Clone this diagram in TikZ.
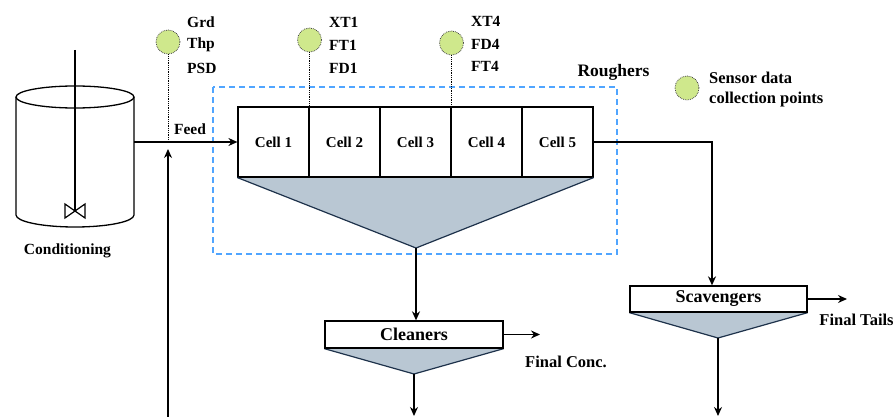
\documentclass[tikz,border=0pt]{standalone}
\usepackage{fontspec}
\setmainfont{Liberation Serif}
\usetikzlibrary{arrows.meta,backgrounds,calc}
\definecolor{sensorgreen}{RGB}{207,232,140}
\definecolor{hopperfill}{RGB}{185,199,211}
\definecolor{hopperedge}{RGB}{30,50,75}
\definecolor{roughblue}{RGB}{80,165,255}
\begin{document}
\begin{tikzpicture}[x=1pt,y=-1pt,
  line/.style={line width=1.4pt, black},
  arr/.style={line, -{Stealth[length=9pt,width=8pt]}},
  cell/.style={draw, line width=1.2pt, fill=white, minimum width=71pt, minimum height=70pt, inner sep=0pt, font=\fontsize{15}{15}\selectfont\bfseries},
  unitbox/.style={draw, line width=1.3pt, fill=white, inner sep=0pt, font=\fontsize{18}{18}\selectfont\bfseries},
  sensor/.style={circle, draw=black!70, densely dotted, line width=0.8pt, fill=sensorgreen, minimum size=24pt, inner sep=0pt},
  lbl/.style={font=\fontsize{15.5}{15.5}\selectfont\bfseries, inner sep=0pt},
  biglbl/.style={font=\fontsize{16.5}{16.5}\selectfont\bfseries, inner sep=0pt},
  tap/.style={densely dotted, line width=0.8pt, black},
  hopper/.style={fill=hopperfill},
  hopperline/.style={draw=hopperedge, line width=1.2pt},
  roughbox/.style={draw=roughblue, line width=1.3pt, dash pattern=on 6pt off 4pt}
]
\useasboundingbox (0,0) rectangle (895,417);

% ---- Conditioning tank ----
\draw[line width=1.3pt] (75,97) ellipse [x radius=59, y radius=11];
\draw[line width=1.3pt] (16,97) -- (16,215)
  .. controls (16,221.6) and (42.4,227) .. (75,227)
  .. controls (107.6,227) and (134,221.6) .. (134,215) -- (134,97);
\draw[line width=1.2pt] (75,50) -- (75,211);
\draw[line width=1.2pt, fill=white] (65,204) -- (85,218) -- (85,204) -- (65,218) -- cycle;
\node[lbl] (cond) at (67.5,251) {Conditioning};
\coordinate (tankout) at (134,142);

% ---- Roughers ----
\node[cell] (c1) at (273.5,142) {Cell 1};
\node[cell] (c2) at (344.5,142) {Cell 2};
\node[cell] (c3) at (415.5,142) {Cell 3};
\node[cell] (c4) at (486.5,142) {Cell 4};
\node[cell] (c5) at (557.5,142) {Cell 5};
\coordinate (rapex) at (416,248);
\begin{scope}[on background layer]
  \fill[hopper] (c1.south west) -- (c5.south east) -- (rapex) -- cycle;
\end{scope}
\draw[hopperline] (c1.south west) -- (rapex) -- (c5.south east);
\draw[roughbox] (213,87) rectangle (617,254);
\node[font=\fontsize{17.5}{17.5}\selectfont\bfseries, inner sep=0pt] (rough) at (613.5,72) {Roughers};

% ---- Feed ----
\draw[arr] (tankout) -- (c1.west);
\node[lbl] (feed) at (190,129) {Feed};
\coordinate (recyc) at (168,417);
\draw[arr] (recyc) -- (168,149);

% ---- Sensors ----
\node[sensor] (s1) at (168,42) {};
\draw[tap] (s1.south) -- (s1 |- tankout);
\node[lbl, anchor=west] (g1) at (187,22) {Grd};
\node[lbl, anchor=west] (g2) at (187,45) {Thp};
\node[lbl, anchor=west] (g3) at (187,68) {PSD};

\node[sensor] (s2) at (309.5,40) {};
\draw[tap] (s2.south) -- (s2 |- c1.north);
\node[lbl, anchor=west] (x1) at (329,22) {XT1};
\node[lbl, anchor=west] (x2) at (329,45) {FT1};
\node[lbl, anchor=west] (x3) at (329,68) {FD1};

\node[sensor] (s3) at (451.5,43) {};
\draw[tap] (s3.south) -- (s3 |- c4.north);
\node[lbl, anchor=west] (y1) at (471,21.5) {XT4};
\node[lbl, anchor=west] (y2) at (471,44) {FD4};
\node[lbl, anchor=west] (y3) at (471,66) {FT4};

\node[sensor] (leg) at (687,88) {};
\node[biglbl, anchor=west] (legt1) at (709,78) {Sensor data};
\node[biglbl, anchor=west] (legt2) at (709,100) {collection points};

% ---- Cleaners ----
\node[unitbox, minimum width=178pt, minimum height=27pt] (cln) at (414,334.5) {Cleaners};
\coordinate (capex) at (414,374);
\fill[hopper] (cln.south west) -- (cln.south east) -- (capex) -- cycle;
\draw[hopperline] (cln.south west) -- (capex) -- (cln.south east);
\draw[line width=1.3pt] (cln.south west) -- (cln.south east);
\draw[arr] (rapex) -- (rapex |- cln.north);
\draw[arr] (cln.east) -- (540,334.5);
\node[biglbl] (fconc) at (566,362) {Final Conc.};
\draw[arr] (capex) -- (414,416);

% ---- Scavengers ----
\node[unitbox, minimum width=177pt, minimum height=26pt] (scav) at (718.5,299) {Scavengers};
\coordinate (sapex) at (718,338);
\fill[hopper] (scav.south west) -- (scav.south east) -- (sapex) -- cycle;
\draw[hopperline] (scav.south west) -- (sapex) -- (scav.south east);
\draw[line width=1.3pt] (scav.south west) -- (scav.south east);
\coordinate (sdrop) at (712,142);
\draw[arr] (c5.east) -- (sdrop) -- (sdrop |- scav.north);
\draw[arr] (scav.east) -- (847,299);
\node[biglbl] (ftails) at (856.5,320) {Final Tails};
\draw[arr] (sapex) -- (718,416);
\end{tikzpicture}
\end{document}
